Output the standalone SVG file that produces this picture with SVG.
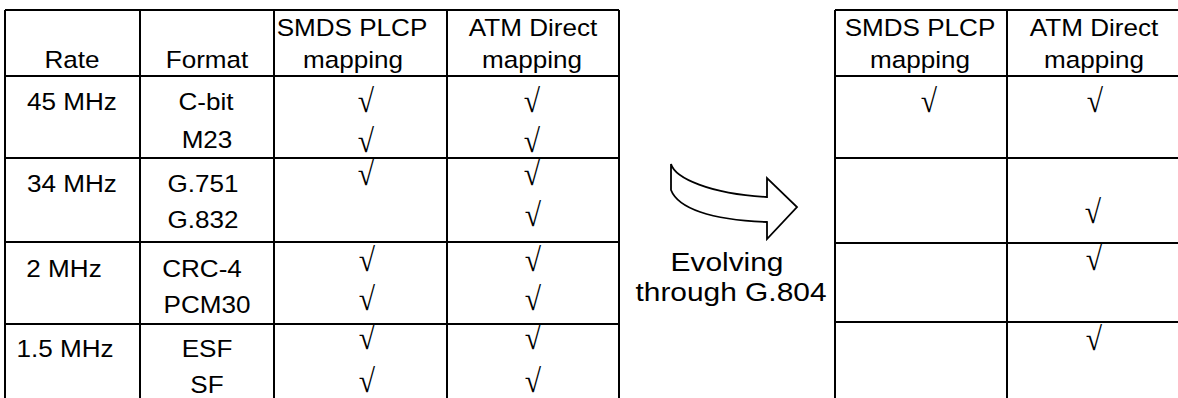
<svg xmlns="http://www.w3.org/2000/svg" width="1178" height="398" viewBox="0 0 1178 398">
<style>
.bg{fill:#ffffff}
.ln{stroke:#000;stroke-width:2;fill:none}
.t{font-family:"Liberation Sans",Arial,sans-serif;font-size:23.5px;fill:#000;text-anchor:middle}
.e{font-family:"Liberation Sans",Arial,sans-serif;font-size:26px;fill:#000;text-anchor:middle}
.c{font-family:"Liberation Serif","Times New Roman",serif;font-size:33px;fill:#000;text-anchor:middle}
.arrow{fill:#fff;stroke:#000;stroke-width:1.8;stroke-linejoin:miter}
</style>
<rect class="bg" x="0" y="0" width="1178" height="398"/>

<g id="left-table">
  <path class="ln" d="M5,10H619M5,76H619M5,158H619M5,242H619M5,324H619M5,10V398M140,10V398M274,10V398M447,10V398M619,10V398"/>
  <text class="t" transform="translate(72,68) scale(1.11,1)">Rate</text>
  <text class="t" transform="translate(207,68) scale(1.11,1)">Format</text>
  <text class="t" transform="translate(352,36) scale(1.11,1)">SMDS PLCP</text>
  <text class="t" transform="translate(353,68) scale(1.11,1)">mapping</text>
  <text class="t" transform="translate(533,36) scale(1.11,1)">ATM Direct</text>
  <text class="t" transform="translate(532,68) scale(1.11,1)">mapping</text>

  <text class="t" transform="translate(72,110) scale(1.11,1)">45 MHz</text>
  <text class="t" transform="translate(72,192) scale(1.11,1)">34 MHz</text>
  <text class="t" transform="translate(64,277) scale(1.11,1)">2 MHz</text>
  <text class="t" transform="translate(65,357) scale(1.11,1)">1.5 MHz</text>

  <text class="t" transform="translate(206,110) scale(1.11,1)">C-bit</text>
  <text class="t" transform="translate(207,148) scale(1.11,1)">M23</text>
  <text class="t" transform="translate(203,192) scale(1.11,1)">G.751</text>
  <text class="t" transform="translate(203,228) scale(1.11,1)">G.832</text>
  <text class="t" transform="translate(202,277) scale(1.11,1)">CRC-4</text>
  <text class="t" transform="translate(207,313) scale(1.11,1)">PCM30</text>
  <text class="t" transform="translate(207,357) scale(1.11,1)">ESF</text>
  <text class="t" transform="translate(207,393) scale(1.11,1)">SF</text>

  <text class="c" transform="translate(366,112) scale(0.9,1)">√</text>
  <text class="c" transform="translate(366,152) scale(0.9,1)">√</text>
  <text class="c" transform="translate(366,185) scale(0.9,1)">√</text>
  <text class="c" transform="translate(367,271) scale(0.9,1)">√</text>
  <text class="c" transform="translate(367,310) scale(0.9,1)">√</text>
  <text class="c" transform="translate(367,349) scale(0.9,1)">√</text>
  <text class="c" transform="translate(367,392) scale(0.9,1)">√</text>

  <text class="c" transform="translate(532,112) scale(0.9,1)">√</text>
  <text class="c" transform="translate(532,152) scale(0.9,1)">√</text>
  <text class="c" transform="translate(532,185) scale(0.9,1)">√</text>
  <text class="c" transform="translate(533,226) scale(0.9,1)">√</text>
  <text class="c" transform="translate(533,271) scale(0.9,1)">√</text>
  <text class="c" transform="translate(533,310) scale(0.9,1)">√</text>
  <text class="c" transform="translate(533,349) scale(0.9,1)">√</text>
  <text class="c" transform="translate(533,392) scale(0.9,1)">√</text>
</g>

<g id="evolve-arrow">
  <path class="arrow" d="M671,164 C675,178 710,194 767,197 L767,178 L797,207 L767,239 L767,222 C710,220 678,208 671,190 Z"/>
  <text class="e" transform="translate(727,271) scale(1.15,1)">Evolving</text>
  <text class="e" transform="translate(731,301) scale(1.15,1)">through G.804</text>
</g>

<g id="right-table">
  <path class="ln" d="M835,10H1180M835,76H1180M835,158H1180M835,243H1180M835,322H1180M835,10V398M1007,10V398"/>
  <text class="t" transform="translate(920,36) scale(1.11,1)">SMDS PLCP</text>
  <text class="t" transform="translate(920,68) scale(1.11,1)">mapping</text>
  <text class="t" transform="translate(1094,36) scale(1.11,1)">ATM Direct</text>
  <text class="t" transform="translate(1094,68) scale(1.11,1)">mapping</text>

  <text class="c" transform="translate(929,112) scale(0.9,1)">√</text>
  <text class="c" transform="translate(1095,112) scale(0.9,1)">√</text>
  <text class="c" transform="translate(1093,223) scale(0.9,1)">√</text>
  <text class="c" transform="translate(1094,270) scale(0.9,1)">√</text>
  <text class="c" transform="translate(1094,350) scale(0.9,1)">√</text>
</g>
</svg>
